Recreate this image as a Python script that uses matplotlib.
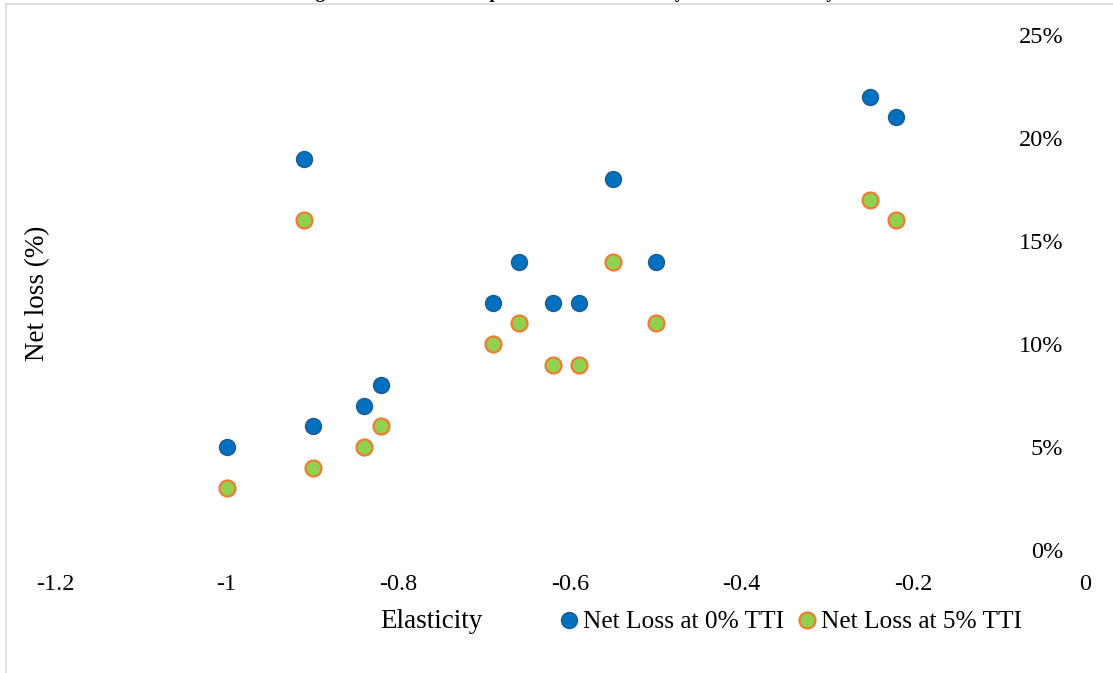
import matplotlib
matplotlib.use("Agg")
import matplotlib.pyplot as plt
from matplotlib.patches import Rectangle
from matplotlib.ticker import PercentFormatter, MultipleLocator
from matplotlib.lines import Line2D

# ---- data ----
elasticity = [-1.0, -0.9, -0.91, -0.84, -0.82, -0.69, -0.66, -0.62, -0.59, -0.55, -0.5, -0.25, -0.22]
loss_0_tti = [0.05, 0.06, 0.19, 0.07, 0.08, 0.12, 0.14, 0.12, 0.12, 0.18, 0.14, 0.22, 0.21]
loss_5_tti = [0.03, 0.04, 0.16, 0.05, 0.06, 0.10, 0.11, 0.09, 0.09, 0.14, 0.11, 0.17, 0.16]
series_names = ["Net Loss at 0% TTI", "Net Loss at 5% TTI"]
x_ticks = [-1.2, -1.0, -0.8, -0.6, -0.4, -0.2, 0.0]
x_tick_labels = ["-1.2", "-1", "-0.8", "-0.6", "-0.4", "-0.2", "0"]
title = "Figure 3: Net Loss Comparison across Elasticity and TTI Elasticity"

plt.rcParams['font.family'] = ['Liberation Serif', 'DejaVu Serif']

W, H = 1113, 673
fig = plt.figure(figsize=(W / 100, H / 100), dpi=100)
ax = fig.add_axes([55 / W, 1 - 550 / H, (1085 - 55) / W, (550 - 35) / H])

ms = 11.5
ax.plot(elasticity, loss_0_tti, linestyle='none', marker='o', markersize=ms,
        markerfacecolor='#0070C0', markeredgecolor='#1F5C8C', markeredgewidth=1.0,
        label=series_names[0], clip_on=False)
ax.plot(elasticity, loss_5_tti, linestyle='none', marker='o', markersize=ms,
        markerfacecolor='#92D050', markeredgecolor='#ED7D31', markeredgewidth=1.6,
        label=series_names[1], clip_on=False)

ax.set_xlim(-1.2, 0)
ax.set_ylim(0, 0.25)
for s in ax.spines.values():
    s.set_visible(False)

ax.set_xticks(x_ticks)
ax.set_xticklabels(x_tick_labels)
ax.yaxis.set_major_locator(MultipleLocator(0.05))
ax.yaxis.set_major_formatter(PercentFormatter(1.0, decimals=0))
ax.tick_params(axis='x', length=0, pad=17, labelsize=17.5, colors='#000000')
ax.tick_params(axis='y', length=0, left=False, right=True, labelleft=False,
               labelright=True, pad=-15.5, labelsize=17.5)
for lbl in ax.get_yticklabels():
    lbl.set_horizontalalignment('right')

ax.set_ylabel("Net loss (%)", fontsize=19.5)
ax.yaxis.set_label_coords((38 - 55) / 1030, (550 - 293) / 515)
ax.yaxis.label.set_verticalalignment('center')
ax.set_xlabel("Elasticity", fontsize=19.5)
ax.xaxis.set_label_coords((431 - 55) / 1030, (550 - 622) / 515)
ax.xaxis.label.set_verticalalignment('center')

handles = [
    Line2D([], [], linestyle='none', marker='o', markersize=ms,
           markerfacecolor='#0070C0', markeredgecolor='#1F5C8C', markeredgewidth=1.0),
    Line2D([], [], linestyle='none', marker='o', markersize=ms,
           markerfacecolor='#92D050', markeredgecolor='#ED7D31', markeredgewidth=1.6),
]
fig.legend(handles, series_names, loc='center left', ncol=2, frameon=False,
           bbox_to_anchor=(559 / W, 1 - 622 / H), fontsize=18.3, handlelength=0.8,
           handletextpad=0.15, columnspacing=0.5, borderpad=0, borderaxespad=0)

# chart border
fig.add_artist(Rectangle((6 / W, -0.1), 1.2, 1 - 4 / H + 0.1, transform=fig.transFigure,
                         fill=False, edgecolor='#D9D9D9', linewidth=1.2))
# title (cut off at the top of the picture, as in the reference)
fig.text(0.51, 1 + 1.5 / H, title, ha='center', va='baseline', fontsize=13.5,
         fontweight='bold')

fig.savefig("out.png", dpi=100)
